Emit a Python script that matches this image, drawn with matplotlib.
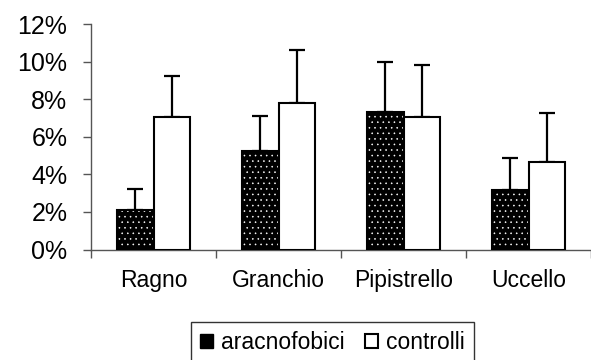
import matplotlib
matplotlib.use("Agg")
import matplotlib.pyplot as plt
import numpy as np
from matplotlib.patches import Patch
from matplotlib.ticker import FuncFormatter

plt.rcParams['font.family'] = ['Liberation Sans', 'DejaVu Sans']
plt.rcParams['hatch.linewidth'] = 0.4

categories = ["Ragno", "Granchio", "Pipistrello", "Uccello"]
aracnofobici = [2.10, 5.26, 7.33, 3.17]
aracnofobici_err = [1.12, 1.83, 2.66, 1.68]
controlli = [7.03, 7.81, 7.03, 4.67]
controlli_err = [2.20, 2.81, 2.77, 2.61]

axis_col = "#555555"

fig = plt.figure(figsize=(5.91, 3.60), dpi=100)
ax = fig.add_axes([91 / 591, 110.5 / 360, 500 / 591, 225.5 / 360])

x = np.arange(len(categories))
w = 0.293

# black bars with white dots, drawn in two passes (hatch, then outline)
ax.bar(x - w / 2, aracnofobici, w, color="black", edgecolor="white",
       hatch="...", linewidth=0, zorder=2)
ax.bar(x - w / 2, aracnofobici, w, fill=False, edgecolor="black",
       linewidth=1.5, zorder=3)
ax.bar(x + w / 2, controlli, w, color="white", edgecolor="black",
       linewidth=1.5, zorder=3)

# upward-only error bars
zeros = np.zeros(len(categories))
ax.errorbar(x - w / 2, aracnofobici, yerr=[zeros, aracnofobici_err],
            fmt="none", ecolor="black", elinewidth=1.6, capsize=6,
            capthick=1.6, zorder=1)
ax.errorbar(x + w / 2, controlli, yerr=[zeros, controlli_err],
            fmt="none", ecolor="black", elinewidth=1.6, capsize=6,
            capthick=1.6, zorder=1)

ax.set_ylim(0, 12)
ax.set_xlim(-0.5, -0.5 + 500 / 126)
ax.set_yticks(np.arange(0, 13, 2))
ax.yaxis.set_major_formatter(FuncFormatter(lambda v, p: f"{v:.0f}%"))
ax.tick_params(axis="y", direction="out", length=6, width=1,
               color=axis_col, labelsize=18, pad=11)

# category boundaries get the ticks, names sit in between
ax.set_xticks(np.arange(-0.5, len(categories), 1.0))
ax.set_xticklabels([])
ax.set_xticks(x, minor=True)
ax.set_xticklabels(categories, minor=True)
ax.tick_params(axis="x", which="major", direction="out", length=6,
               width=1, color=axis_col)
ax.tick_params(axis="x", which="minor", length=0, labelsize=16.5, pad=14)

for s in ["top", "right"]:
    ax.spines[s].set_visible(False)
for s in ["left", "bottom"]:
    ax.spines[s].set_color(axis_col)
    ax.spines[s].set_linewidth(1)

handles = [Patch(facecolor="black", edgecolor="black", linewidth=1),
           Patch(facecolor="white", edgecolor="black", linewidth=1.5)]
leg = fig.legend(handles, ["aracnofobici", "controlli"], ncol=2,
                 loc="upper left", bbox_to_anchor=(191 / 591, 38 / 360),
                 fontsize=16.5, frameon=True, fancybox=False,
                 edgecolor="black", handlelength=0.55, handleheight=0.55,
                 handletextpad=0.35, columnspacing=0.9, borderpad=0.4,
                 borderaxespad=0)
leg.get_frame().set_linewidth(1)

fig.savefig("out.png", dpi=100)
